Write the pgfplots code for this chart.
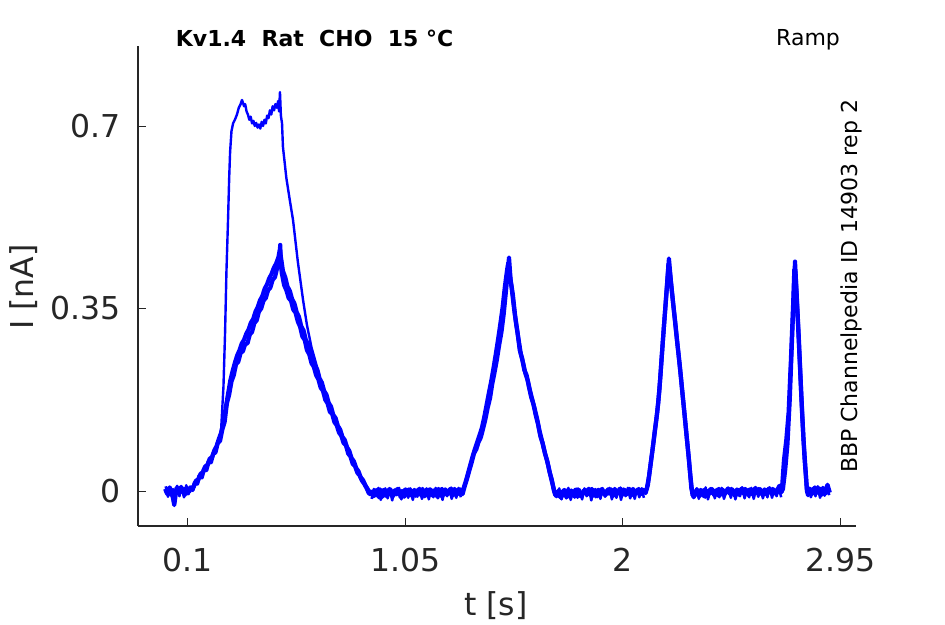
\documentclass[border=0pt]{standalone}
\usepackage{pgfplots}
\pgfplotsset{compat=1.18}
\usepackage{fontspec}
\setmainfont{DejaVu Sans}
\definecolor{axgray}{HTML}{262626}
\begin{document}
\begin{tikzpicture}
\useasboundingbox (0,0) rectangle (945pt,624pt);
\begin{axis}[
  at={(138pt,98pt)}, anchor=south west,
  scale only axis, width=718pt, height=480pt,
  xmin=-0.1185, xmax=3.0196, ymin=-0.0671, ymax=0.8535,
  axis lines*=left,
  axis line style={-, line width=1.1pt, axgray},
  tick align=inside, major tick length=8pt,
  tick style={line width=1pt, axgray},
  xtick={0.1,1.05,2,2.95}, xticklabels={0.1,1.05,2,2.95},
  ytick={0,0.35,0.7}, yticklabels={0,0.35,0.7},
  xticklabel style={font=\fontsize{31.5}{37}\selectfont, text=axgray, inner sep=0pt, yshift=-22pt},
  yticklabel style={font=\fontsize{31.5}{37}\selectfont, text=axgray, inner sep=0pt, xshift=-17pt},
]
% trace B
\addplot[blue, line width=4.2pt, line join=round] coordinates {
(0.00,0.004)(0.01,-0.006)(0.02,0.007)(0.03,-0.004)(0.04,-0.027)(0.05,0.006)(0.06,-0.005)(0.07,0.008)(0.08,-0.003)(0.09,0.005)(0.10,-0.004)(0.11,0.007)
(0.12,0.002)(0.13,0.016)(0.14,0.014)(0.15,0.029)(0.16,0.026)(0.17,0.042)(0.18,0.040)(0.19,0.056)(0.20,0.055)(0.21,0.071)(0.22,0.074)(0.23,0.092)(0.24,0.096)(0.25,0.118)(0.26,0.132)(0.27,0.168)(0.28,0.185)(0.29,0.210)(0.30,0.222)(0.31,0.243)(0.32,0.248)(0.33,0.265)(0.34,0.268)(0.35,0.282)(0.36,0.283)(0.37,0.300)(0.38,0.305)(0.39,0.322)(0.40,0.327)(0.41,0.344)(0.42,0.350)(0.43,0.365)(0.44,0.370)(0.45,0.385)(0.46,0.390)(0.47,0.405)(0.48,0.410)(0.49,0.428)(0.50,0.445)(0.503,0.472)(0.507,0.430)
(0.51,0.418)(0.52,0.395)(0.53,0.385)(0.54,0.370)(0.55,0.365)(0.56,0.348)(0.57,0.342)(0.58,0.325)(0.59,0.315)(0.60,0.296)(0.61,0.290)(0.62,0.270)(0.63,0.262)(0.64,0.245)(0.65,0.238)(0.66,0.222)(0.67,0.214)(0.68,0.198)(0.69,0.192)(0.70,0.175)(0.71,0.168)(0.72,0.152)(0.73,0.148)(0.74,0.132)(0.75,0.126)(0.76,0.112)(0.77,0.106)(0.78,0.092)(0.79,0.088)(0.80,0.072)(0.81,0.066)(0.82,0.052)(0.83,0.048)(0.84,0.035)(0.85,0.030)(0.86,0.020)(0.87,0.014)(0.88,0.006)(0.89,-0.004)
(0.90,-0.002)(0.91,-0.010)(0.92,0.001)(0.93,-0.008)(0.94,0.003)(0.95,-0.011)(0.96,-0.001)(0.97,-0.007)(0.98,0.004)(0.99,-0.009)(1.00,0.000)(1.01,-0.006)(1.02,0.002)(1.03,-0.012)(1.04,-0.003)(1.05,0.003)(1.06,-0.008)(1.07,-0.001)(1.08,-0.010)(1.09,0.002)(1.10,-0.005)(1.11,0.004)(1.12,-0.009)(1.13,-0.002)(1.14,0.001)(1.15,-0.008)(1.16,0.003)(1.17,-0.006)(1.18,0.000)(1.19,-0.011)(1.20,-0.001)(1.21,0.004)(1.22,-0.007)(1.23,0.001)(1.24,-0.005)(1.25,0.005)(1.26,-0.008)(1.27,0.002)(1.28,-0.004)(1.29,0.003)(1.30,-0.006)
(1.31,0.010)(1.32,0.024)(1.33,0.040)(1.34,0.055)(1.35,0.072)(1.36,0.080)(1.37,0.094)(1.38,0.103)(1.39,0.120)(1.40,0.138)(1.41,0.160)(1.42,0.178)(1.43,0.206)(1.44,0.228)(1.45,0.252)(1.46,0.280)(1.47,0.305)(1.48,0.340)(1.49,0.385)(1.50,0.430)(1.503,0.448)(1.51,0.405)(1.52,0.376)(1.53,0.335)(1.54,0.305)(1.55,0.270)(1.56,0.255)(1.57,0.232)(1.58,0.222)(1.59,0.200)(1.60,0.180)(1.61,0.166)(1.62,0.145)(1.63,0.128)(1.64,0.105)(1.65,0.092)(1.66,0.072)(1.67,0.058)(1.68,0.037)(1.69,0.022)(1.70,0.000)
(1.71,-0.010)(1.72,0.001)(1.73,-0.013)(1.74,-0.003)(1.75,-0.009)(1.76,0.002)(1.77,-0.007)(1.78,-0.001)(1.79,-0.011)(1.80,0.003)(1.81,-0.005)(1.82,-0.009)(1.83,0.001)(1.84,-0.006)(1.85,0.004)(1.86,-0.008)(1.87,-0.002)(1.88,0.002)(1.89,-0.010)(1.90,-0.001)(1.91,0.004)(1.92,-0.007)(1.93,0.000)(1.94,-0.005)(1.95,0.003)(1.96,-0.009)(1.97,0.001)(1.98,-0.004)(1.99,0.005)(2.00,-0.007)(2.01,0.000)(2.02,-0.006)(2.03,0.004)(2.04,-0.008)(2.05,0.001)(2.06,-0.003)(2.07,0.004)(2.08,-0.006)(2.09,0.002)(2.10,-0.004)
(2.11,0.012)(2.12,0.045)(2.13,0.078)(2.14,0.115)(2.15,0.148)(2.16,0.192)(2.17,0.255)(2.18,0.315)(2.19,0.372)(2.20,0.432)(2.202,0.446)(2.21,0.405)(2.22,0.362)(2.23,0.322)(2.24,0.278)(2.25,0.238)(2.26,0.192)(2.27,0.148)(2.28,0.102)(2.29,0.058)(2.30,0.005)
(2.31,-0.012)(2.32,-0.002)(2.33,-0.008)(2.34,0.002)(2.35,-0.006)(2.36,-0.011)(2.37,0.000)(2.38,-0.005)(2.39,0.003)(2.40,-0.008)(2.41,-0.002)(2.42,0.004)(2.43,-0.007)(2.44,0.001)(2.45,-0.004)(2.46,0.005)(2.47,-0.006)(2.48,0.000)(2.49,-0.009)(2.50,0.003)(2.51,-0.003)(2.52,0.005)(2.53,-0.005)(2.54,0.002)(2.55,-0.008)(2.56,0.001)(2.57,-0.002)(2.58,0.006)(2.59,-0.004)(2.60,0.002)(2.61,-0.007)(2.62,0.003)(2.63,-0.001)(2.64,0.005)(2.65,-0.005)(2.66,0.002)(2.67,-0.006)(2.68,0.004)(2.69,-0.002)(2.70,0.003)
(2.71,0.040)(2.72,0.090)(2.73,0.175)(2.74,0.290)(2.75,0.405)(2.753,0.440)(2.76,0.380)(2.77,0.290)(2.78,0.190)(2.79,0.100)(2.80,0.035)(2.805,0.000)
(2.81,-0.008)(2.82,0.004)(2.83,-0.005)(2.84,0.007)(2.85,-0.003)(2.86,0.005)(2.87,-0.007)(2.88,0.003)(2.89,-0.004)(2.90,0.006)
};
% trace C
\addplot[blue, line width=4.2pt, line join=round] coordinates {
(0.005,-0.003)(0.015,0.005)(0.025,-0.007)(0.035,0.002)(0.045,-0.005)(0.055,0.006)(0.065,-0.002)(0.075,0.004)(0.085,-0.008)(0.095,0.003)(0.105,-0.001)
(0.115,0.006)(0.125,0.008)(0.135,0.020)(0.145,0.022)(0.155,0.033)(0.165,0.036)(0.175,0.047)(0.185,0.050)(0.195,0.062)(0.205,0.065)(0.215,0.078)(0.225,0.086)(0.235,0.100)(0.245,0.112)(0.255,0.132)(0.265,0.160)(0.275,0.186)(0.285,0.212)(0.295,0.230)(0.305,0.246)(0.315,0.260)(0.325,0.270)(0.335,0.283)(0.345,0.290)(0.355,0.302)(0.365,0.310)(0.375,0.323)(0.385,0.330)(0.395,0.344)(0.405,0.353)(0.415,0.366)(0.425,0.374)(0.435,0.388)(0.445,0.396)(0.455,0.408)(0.465,0.416)(0.475,0.428)(0.485,0.436)(0.495,0.448)(0.501,0.462)(0.505,0.452)
(0.515,0.422)(0.525,0.410)(0.535,0.392)(0.545,0.384)(0.555,0.368)(0.565,0.360)(0.575,0.343)(0.585,0.334)(0.595,0.316)(0.605,0.308)(0.615,0.290)(0.625,0.282)(0.635,0.264)(0.645,0.258)(0.655,0.240)(0.665,0.233)(0.675,0.216)(0.685,0.208)(0.695,0.192)(0.705,0.185)(0.715,0.169)(0.725,0.162)(0.735,0.146)(0.745,0.140)(0.755,0.125)(0.765,0.118)(0.775,0.104)(0.785,0.098)(0.795,0.084)(0.805,0.077)(0.815,0.063)(0.825,0.057)(0.835,0.044)(0.845,0.038)(0.855,0.026)(0.865,0.021)(0.875,0.011)(0.885,0.004)(0.895,-0.006)
(0.905,-0.001)(0.915,-0.009)(0.925,0.002)(0.935,-0.012)(0.945,-0.003)(0.955,0.002)(0.965,-0.009)(0.975,-0.002)(0.985,0.003)(0.995,-0.010)(1.005,-0.004)(1.015,0.004)(1.025,-0.007)(1.035,0.000)(1.045,-0.011)(1.055,-0.002)(1.065,0.003)(1.075,-0.006)(1.085,0.001)(1.095,-0.009)(1.105,0.002)(1.115,-0.005)(1.125,0.004)(1.135,-0.010)(1.145,-0.001)(1.155,0.003)(1.165,-0.008)(1.175,0.001)(1.185,-0.004)(1.195,0.004)(1.205,-0.009)(1.215,-0.002)(1.225,0.003)(1.235,-0.006)(1.245,0.001)(1.255,-0.004)(1.265,0.004)(1.275,-0.007)(1.285,0.001)(1.295,-0.003)
(1.305,0.006)(1.315,0.020)(1.325,0.036)(1.335,0.052)(1.345,0.068)(1.355,0.082)(1.365,0.095)(1.375,0.108)(1.385,0.122)(1.395,0.142)(1.405,0.165)(1.415,0.188)(1.425,0.210)(1.435,0.235)(1.445,0.262)(1.455,0.290)(1.465,0.320)(1.475,0.352)(1.485,0.392)(1.495,0.425)(1.500,0.438)(1.505,0.420)(1.515,0.388)(1.525,0.350)(1.535,0.318)(1.545,0.290)(1.555,0.262)(1.565,0.245)(1.575,0.225)(1.585,0.212)(1.595,0.192)(1.605,0.175)(1.615,0.158)(1.625,0.140)(1.635,0.118)(1.645,0.100)(1.655,0.082)(1.665,0.065)(1.675,0.048)(1.685,0.028)(1.695,0.010)(1.705,-0.008)
(1.715,-0.003)(1.725,-0.011)(1.735,-0.002)(1.745,0.002)(1.755,-0.012)(1.765,-0.004)(1.775,0.001)(1.785,-0.008)(1.795,-0.002)(1.805,0.003)(1.815,-0.010)(1.825,-0.003)(1.835,0.002)(1.845,-0.007)(1.855,-0.001)(1.865,0.004)(1.875,-0.009)(1.885,-0.003)(1.895,0.002)(1.905,-0.006)(1.915,0.000)(1.925,-0.008)(1.935,0.003)(1.945,-0.002)(1.955,-0.007)(1.965,0.004)(1.975,-0.005)(1.985,0.000)(1.995,-0.008)(2.005,0.003)(2.015,-0.003)(2.025,0.002)(2.035,-0.006)(2.045,0.004)(2.055,-0.004)(2.065,0.001)(2.075,-0.007)(2.085,0.003)(2.095,-0.002)
(2.105,0.004)(2.115,0.028)(2.125,0.062)(2.135,0.095)(2.145,0.130)(2.155,0.168)(2.165,0.222)(2.175,0.285)(2.185,0.345)(2.195,0.405)(2.200,0.436)(2.205,0.425)(2.215,0.382)(2.225,0.340)(2.235,0.298)(2.245,0.258)(2.255,0.215)(2.265,0.170)(2.275,0.125)(2.285,0.080)(2.295,0.032)(2.305,-0.008)
(2.315,-0.003)(2.325,0.003)(2.335,-0.010)(2.345,-0.004)(2.355,0.002)(2.365,-0.007)(2.375,-0.001)(2.385,0.004)(2.395,-0.005)(2.405,0.001)(2.415,-0.008)(2.425,-0.002)(2.435,0.003)(2.445,-0.006)(2.455,0.002)(2.465,-0.003)(2.475,0.004)(2.485,-0.005)(2.495,0.001)(2.505,-0.007)(2.515,0.002)(2.525,-0.004)(2.535,0.004)(2.545,-0.002)(2.555,0.003)(2.565,-0.006)(2.575,0.000)(2.585,-0.003)(2.595,0.004)(2.605,-0.004)(2.615,0.001)(2.625,-0.006)(2.635,0.003)(2.645,-0.002)(2.655,0.004)(2.665,-0.004)(2.675,0.002)(2.685,0.010)(2.695,-0.002)
(2.705,0.060)(2.715,0.098)(2.725,0.150)(2.735,0.250)(2.745,0.360)(2.750,0.425)(2.755,0.420)(2.765,0.330)(2.775,0.235)(2.785,0.140)(2.795,0.060)(2.805,0.004)
(2.815,0.002)(2.825,-0.006)(2.835,0.005)(2.845,-0.004)(2.855,0.003)(2.865,-0.008)(2.875,0.006)(2.885,-0.002)(2.895,0.012)(2.905,-0.003)
};
% trace D: further repeat, baseline segments
\addplot[blue, line width=2.5pt, line join=round] coordinates {
(0.0025,0.009)(0.0125,-0.011)(0.0225,0.006)(0.0325,-0.012)(0.0425,-0.004)(0.0525,0.010)(0.0625,-0.010)(0.0725,0.008)(0.0825,-0.012)(0.0925,0.011)(0.1025,-0.008)
};
\addplot[blue, line width=2.5pt, line join=round] coordinates {
(0.9025,-0.015)(0.9125,0.004)(0.9225,-0.010)(0.9325,0.006)(0.9425,-0.017)(0.9525,-0.002)(0.9625,0.005)(0.9725,-0.014)(0.9825,0.002)(0.9925,-0.018)(1.0025,0.003)(1.0125,-0.008)(1.0225,0.006)(1.0325,-0.016)(1.0425,-0.001)(1.0525,0.004)(1.0625,-0.013)(1.0725,0.005)(1.0825,-0.017)(1.0925,0.001)(1.1025,-0.011)(1.1125,0.006)(1.1225,-0.015)(1.1325,-0.003)(1.1425,0.005)(1.1525,-0.016)(1.1625,0.003)(1.1725,-0.012)(1.1825,0.006)(1.1925,-0.014)(1.2025,0.000)(1.2125,-0.017)(1.2225,0.004)(1.2325,-0.010)(1.2425,0.005)(1.2525,-0.015)(1.2625,0.002)(1.2725,-0.013)(1.2825,0.006)(1.2925,-0.012)
};
\addplot[blue, line width=2.5pt, line join=round] coordinates {
(1.7125,-0.012)(1.7225,0.005)(1.7325,-0.016)(1.7425,0.002)(1.7525,-0.014)(1.7625,0.006)(1.7725,-0.017)(1.7825,-0.001)(1.7925,0.004)(1.8025,-0.013)(1.8125,0.003)(1.8225,-0.016)(1.8325,0.005)(1.8425,-0.010)(1.8525,0.006)(1.8625,-0.018)(1.8725,0.001)(1.8825,-0.012)(1.8925,0.004)(1.9025,-0.015)(1.9125,0.005)(1.9225,-0.011)(1.9325,-0.002)(1.9425,0.006)(1.9525,-0.016)(1.9625,0.003)(1.9725,-0.013)(1.9825,0.005)(1.9925,-0.017)(2.0025,0.002)(2.0125,-0.010)(2.0225,0.006)(2.0325,-0.014)(2.0425,0.000)(2.0525,-0.015)(2.0625,0.004)(2.0725,-0.012)(2.0825,0.005)(2.0925,-0.013)
};
\addplot[blue, line width=2.5pt, line join=round] coordinates {
(2.3125,-0.013)(2.3225,0.005)(2.3325,-0.015)(2.3425,0.003)(2.3525,-0.011)(2.3625,0.007)(2.3725,-0.016)(2.3825,0.000)(2.3925,0.005)(2.4025,-0.014)(2.4125,0.004)(2.4225,-0.012)(2.4325,0.006)(2.4425,-0.015)(2.4525,-0.002)(2.4625,0.006)(2.4725,-0.013)(2.4825,0.004)(2.4925,-0.016)(2.5025,0.002)(2.5125,-0.010)(2.5225,0.007)(2.5325,-0.014)(2.5425,0.001)(2.5525,-0.012)(2.5625,0.006)(2.5725,-0.015)(2.5825,0.003)(2.5925,-0.011)(2.6025,0.005)(2.6125,-0.014)(2.6225,0.002)(2.6325,-0.012)(2.6425,0.007)(2.6525,-0.013)(2.6625,0.004)(2.6725,-0.010)(2.6825,0.006)(2.6925,-0.012)
};
\addplot[blue, line width=2.5pt, line join=round] coordinates {
(2.8125,0.008)(2.8225,-0.012)(2.8325,0.006)(2.8425,-0.010)(2.8525,0.009)(2.8625,-0.013)(2.8725,0.005)(2.8825,-0.009)(2.8925,0.010)(2.9025,-0.008)
};
% trace A (plateau repeat)
\addplot[blue, line width=2.4pt, line join=round] coordinates {
(0.00,-0.005)(0.02,0.003)(0.04,-0.006)(0.06,0.004)(0.08,-0.003)(0.10,0.005)(0.12,0.008)(0.14,0.020)(0.16,0.032)(0.18,0.046)(0.20,0.060)(0.22,0.078)(0.235,0.095)(0.245,0.120)
(0.255,0.200)(0.262,0.303)(0.268,0.420)(0.275,0.520)(0.280,0.600)(0.284,0.650)(0.290,0.690)(0.297,0.705)(0.305,0.712)(0.314,0.722)(0.322,0.735)(0.330,0.742)(0.336,0.750)(0.340,0.745)(0.345,0.738)(0.350,0.742)(0.356,0.728)(0.362,0.722)(0.368,0.712)(0.374,0.718)(0.380,0.705)(0.386,0.710)(0.392,0.700)(0.398,0.706)(0.404,0.697)(0.410,0.703)(0.416,0.695)(0.422,0.708)(0.428,0.700)(0.434,0.712)(0.440,0.705)(0.446,0.720)(0.452,0.715)(0.458,0.730)(0.464,0.722)(0.470,0.738)(0.476,0.730)(0.482,0.742)(0.488,0.735)(0.494,0.748)(0.498,0.728)(0.502,0.765)(0.506,0.720)
(0.511,0.705)(0.515,0.660)(0.530,0.600)(0.546,0.555)(0.559,0.520)(0.580,0.440)(0.603,0.366)(0.620,0.318)(0.640,0.275)(0.664,0.238)(0.690,0.195)(0.721,0.155)(0.750,0.125)(0.777,0.098)(0.80,0.075)(0.83,0.050)(0.86,0.025)(0.89,0.002)(0.92,-0.006)(0.95,-0.002)
};
\end{axis}
% texts
\node[anchor=base west, inner sep=0pt, font=\fontsize{22}{26}\selectfont\bfseries] at (175.7pt,577.3pt) {Kv1.4\ \ Rat\ \ CHO\ \ 15 °C};
\node[anchor=base west, inner sep=0pt, font=\fontsize{22}{26}\selectfont] at (776pt,578pt) {Ramp};
\node[anchor=base west, inner sep=0pt, rotate=90, font=\fontsize{22}{26}\selectfont] at (857pt,151pt) {BBP Channelpedia ID 14903 rep 2};
\node[anchor=base, inner sep=0pt, text=axgray, font=\fontsize{31.5}{37}\selectfont] at (496pt,9pt) {t [s]};
\node[anchor=base, inner sep=0pt, rotate=90, text=axgray, font=\fontsize{31.5}{37}\selectfont] at (33pt,337pt) {I [nA]};
\end{tikzpicture}
\end{document}
